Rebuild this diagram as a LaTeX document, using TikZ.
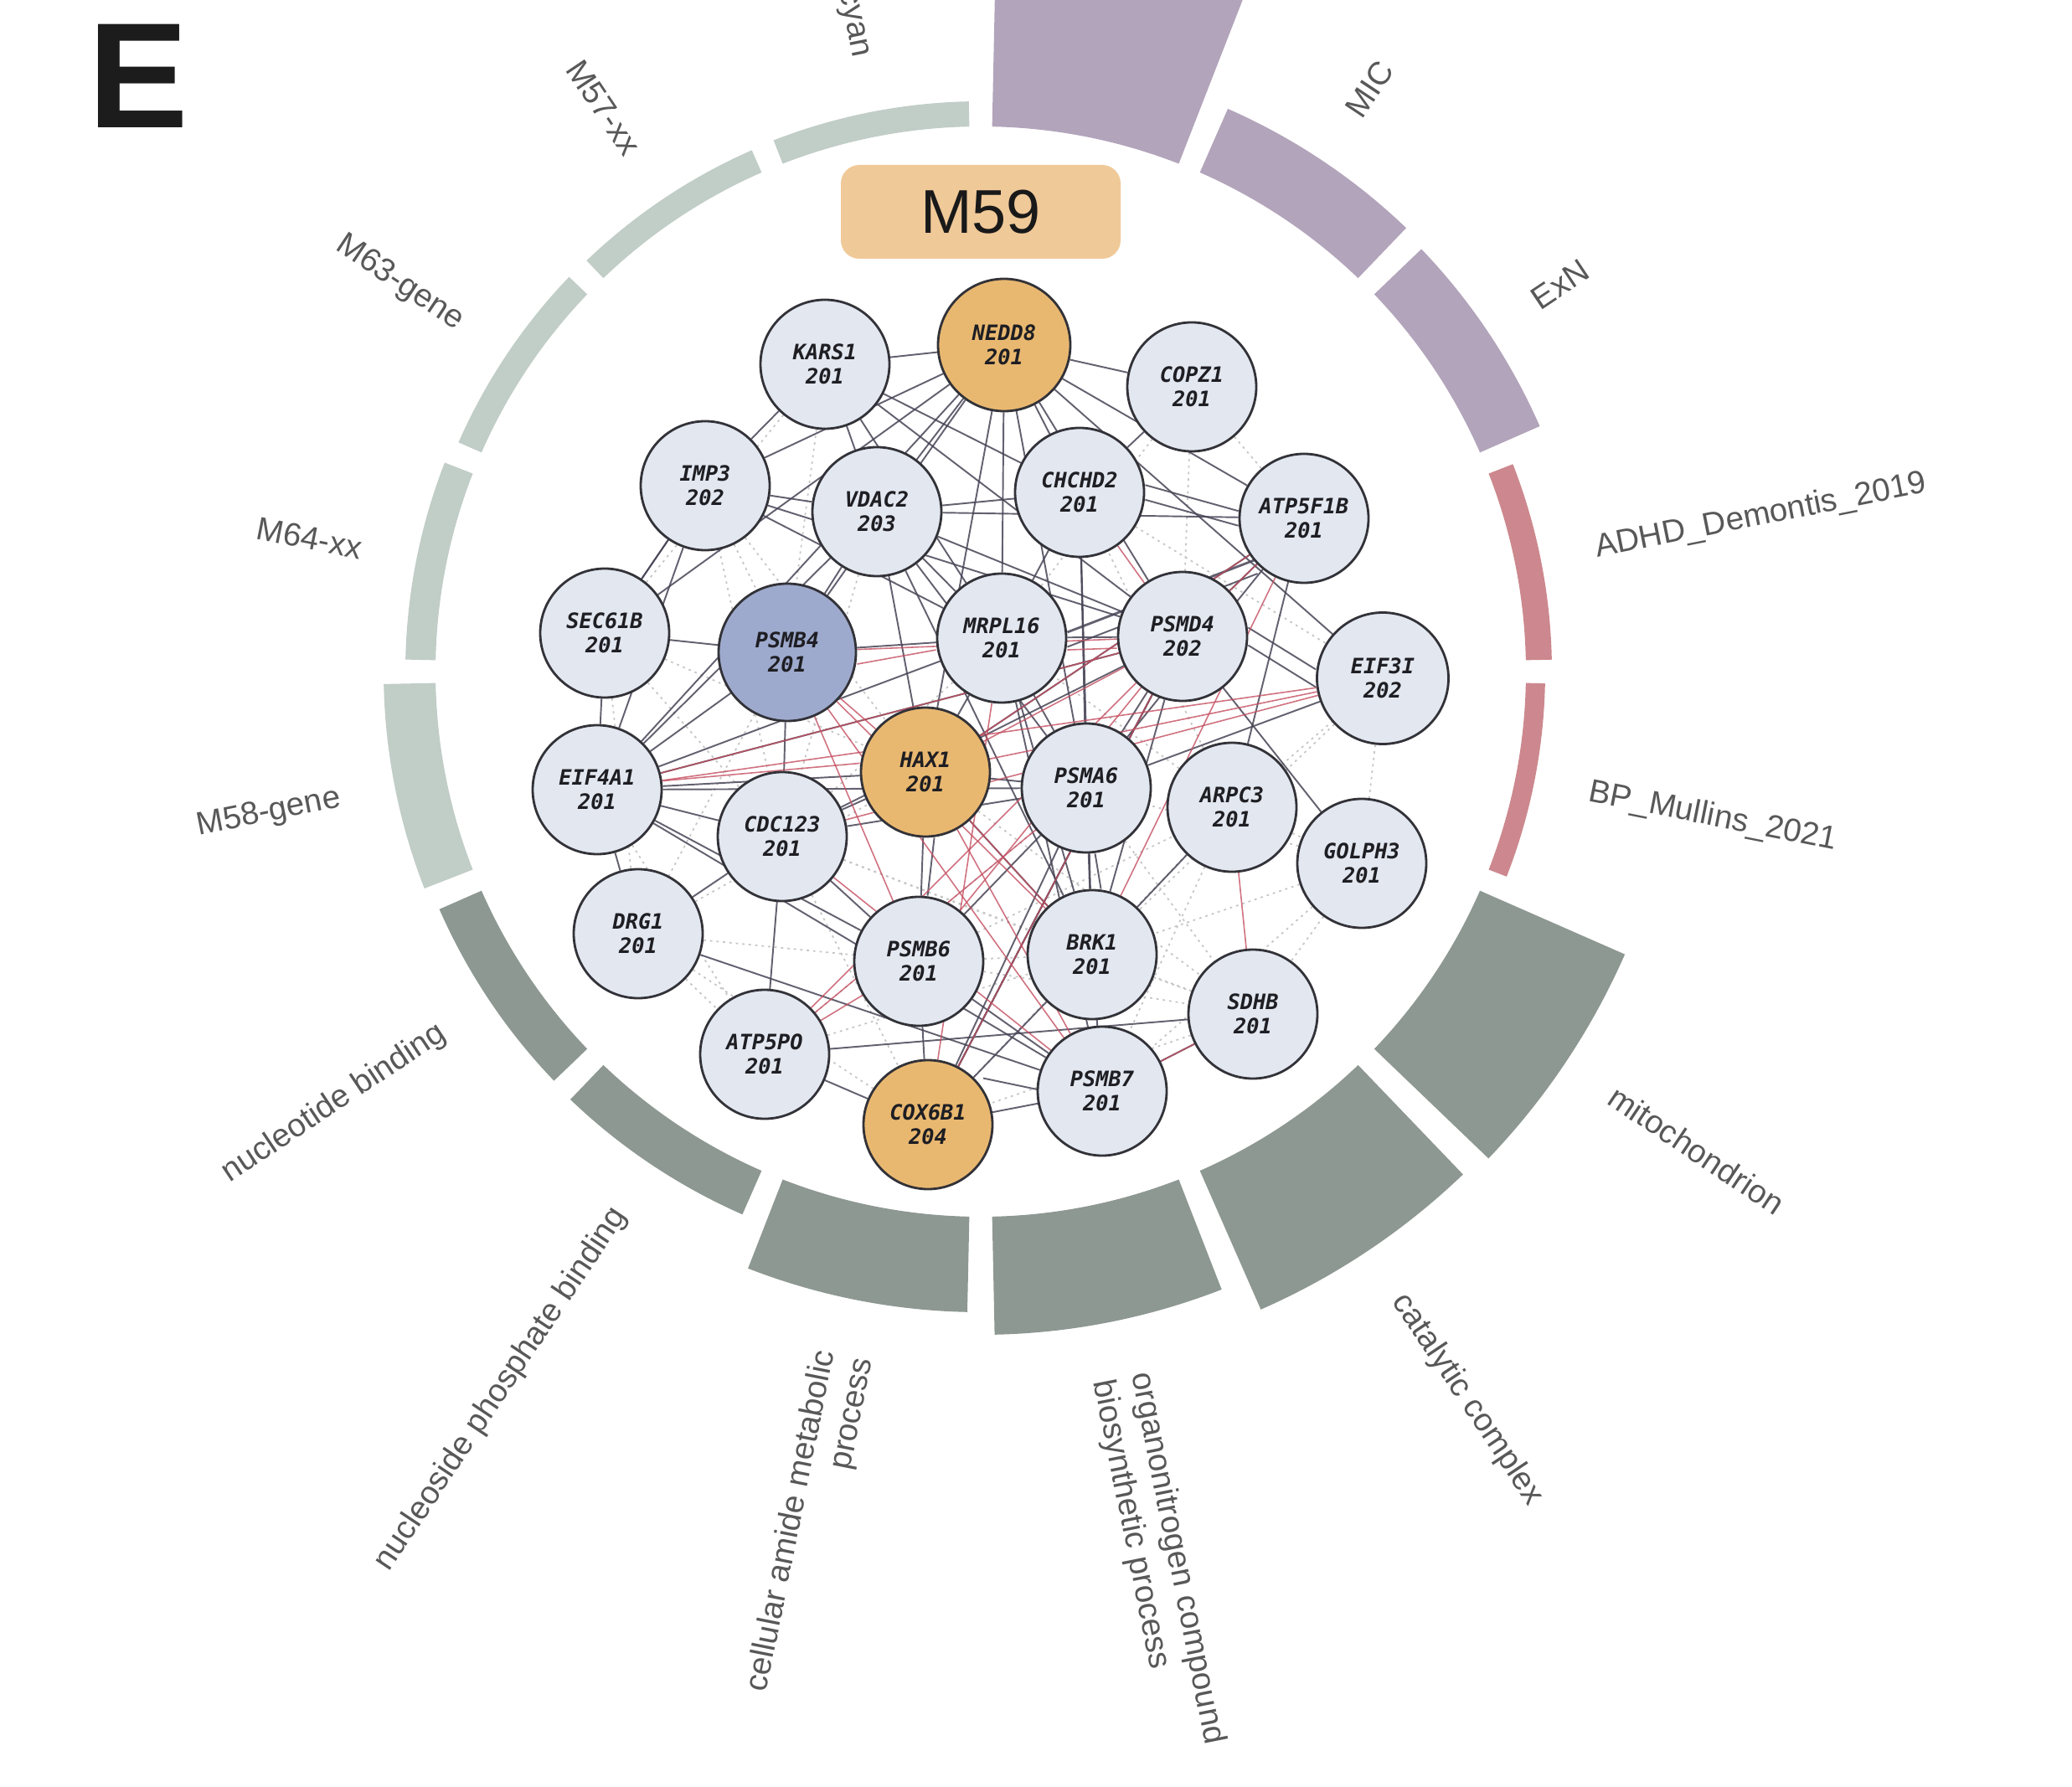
\documentclass[tikz,border=0pt]{standalone}
\usepackage{fontspec}
\setmainfont{Liberation Sans}
\newfontfamily\nodefont{DejaVu Sans Mono}
\usetikzlibrary{calc}
\pgfdeclarelayer{bg}
\pgfsetlayers{bg,main}
\definecolor{ringlight}{RGB}{193,205,199}
\definecolor{ringpurple}{RGB}{178,164,186}
\definecolor{ringred}{RGB}{204,136,142}
\definecolor{ringdark}{RGB}{142,152,146}
\definecolor{nodelight}{RGB}{226,231,240}
\definecolor{nodeorange}{RGB}{233,184,112}
\definecolor{nodeblue}{RGB}{158,170,205}
\definecolor{boxorange}{RGB}{240,201,152}
\definecolor{labelgray}{RGB}{88,88,88}
\definecolor{edgedark}{RGB}{72,68,86}
\definecolor{edgered}{RGB}{196,78,96}
\definecolor{nodeline}{RGB}{50,50,56}
\tikzset{
  gnode/.style={circle, draw=nodeline, line width=0.8pt, fill=nodelight, minimum size=1.54cm,
    inner sep=0pt, align=center, text={rgb,255:red,30;green,30;blue,35},
    font={\fontsize{7.2}{8.4}\nodefont\bfseries\itshape}},
  onode/.style={gnode, fill=nodeorange},
  bnode/.style={gnode, fill=nodeblue},
  lbl/.style={inner sep=0pt, text=labelgray, font={\fontsize{11}{13.2}\selectfont}},
  de/.style={draw=edgedark, line width=0.55pt, opacity=0.85},
  re/.style={draw=edgered, line width=0.45pt, opacity=0.8},
  dte/.style={draw=gray!45, line width=0.5pt, dash pattern=on 0.8pt off 1.4pt}
}
\begin{document}
\begin{tikzpicture}
\useasboundingbox (0,0) rectangle (24.74,-21.34);
\clip (0,0) rectangle (24.74,-21.34);
\coordinate (C) at (11.71,-8.02);

% ring segments
\foreach \k/\rout/\col in {0/6.81/ringlight, 1/11/ringpurple, 2/7.34/ringpurple, 3/7.29/ringpurple,
  4/6.82/ringred, 5/6.74/ringred, 6/8.40/ringdark, 7/8.32/ringdark, 8/7.92/ringdark,
  9/7.65/ringdark, 10/7.08/ringdark, 11/7.06/ringdark, 12/7.13/ringlight, 13/6.87/ringlight,
  14/6.81/ringlight, 15/6.80/ringlight}{
  \pgfmathsetmacro\sa{101.25-22.5*\k+10.05}
  \pgfmathsetmacro\sb{101.25-22.5*\k-10.05}
  \fill[\col] ($(C)+(\sa:6.51)$) arc[start angle=\sa, end angle=\sb, radius=6.51]
    -- ($(C)+(\sb:\rout)$) arc[start angle=\sb, end angle=\sa, radius=\rout] -- cycle;
}

% ring labels
\node[lbl, rotate=-78.75, anchor=east] (lcyan) at ($(C)+(101.25:7.47)$) {cyan};
\node[lbl, rotate=56.25, anchor=west] (lmic) at ($(C)+(56.25:8.00)$) {MIC};
\node[lbl, rotate=33.75, anchor=west] (lexn) at ($(C)+(33.75:7.95)$) {ExN};
\node[lbl, rotate=11.25, anchor=west] (ladhd) at ($(C)+(11.25:7.48)$) {ADHD\_Demontis\_2019};
\node[lbl, rotate=-11.25, anchor=west] (lbp) at ($(C)+(-11.25:7.40)$) {BP\_Mullins\_2021};
\node[lbl, rotate=-33.75, anchor=west] (lmito) at ($(C)+(-33.75:9.06)$) {mitochondrion};
\node[lbl, rotate=-56.25, anchor=west] (lcat) at ($(C)+(-56.25:8.98)$) {catalytic complex};
\node[lbl, rotate=-78.75, anchor=west, align=left] (lorg) at ($(C)+(-78.75:8.58)$) {organonitrogen compound\\biosynthetic process};
\node[lbl, rotate=78.75, anchor=east, align=right] (lcell) at ($(C)+(-101.25:8.31)$) {cellular amide metabolic\\process};
\node[lbl, rotate=56.25, anchor=east] (lnps) at ($(C)+(-123.75:7.74)$) {nucleoside phosphate binding};
\node[lbl, rotate=33.75, anchor=east] (lnuc) at ($(C)+(-146.25:7.72)$) {nucleotide binding};
\node[lbl, rotate=11.25, anchor=east] (lm58) at ($(C)+(-168.75:7.79)$) {M58-gene};
\node[lbl, rotate=-11.25, anchor=east] (lm64) at ($(C)+(168.75:7.53)$) {M64-xx};
\node[lbl, rotate=-33.75, anchor=east] (lm63) at ($(C)+(146.25:7.47)$) {M63-gene};
\node[lbl, rotate=-56.25, anchor=east] (lm57) at ($(C)+(123.75:7.46)$) {M57-xx};

% panel letter and title
\node[inner sep=0pt, anchor=base west, text={rgb,255:red,28;green,28;blue,28},
  font={\fontsize{51}{60}\selectfont\bfseries}] (E) at (1.05,-1.53) {E};
\node[fill=boxorange, rounded corners=0.22cm, minimum width=3.34cm, minimum height=1.12cm,
  inner sep=0pt, text={rgb,255:red,25;green,25;blue,25}, font={\fontsize{21}{25}\selectfont}] (title) at (11.71,-2.53) {M59};

% gene nodes
\node[onode, minimum size=1.58cm] (NE) at (11.99,-4.12) {NEDD8\\201};
\node[gnode] (KA) at (9.85,-4.35) {KARS1\\201};
\node[gnode] (CO) at (14.23,-4.62) {COPZ1\\201};
\node[gnode] (IM) at (8.42,-5.80) {IMP3\\202};
\node[gnode] (VD) at (10.47,-6.11) {VDAC2\\203};
\node[gnode] (CH) at (12.89,-5.88) {CHCHD2\\201};
\node[gnode] (AT) at (15.57,-6.19) {ATP5F1B\\201};
\node[gnode] (SE) at (7.22,-7.56) {SEC61B\\201};
\node[bnode, minimum size=1.64cm] (P4) at (9.40,-7.79) {PSMB4\\201};
\node[gnode] (MR) at (11.96,-7.62) {MRPL16\\201};
\node[gnode] (PD) at (14.12,-7.60) {PSMD4\\202};
\node[gnode, minimum size=1.57cm] (EI) at (16.51,-8.10) {EIF3I\\202};
\node[gnode] (EF) at (7.13,-9.43) {EIF4A1\\201};
\node[onode] (HA) at (11.05,-9.22) {HAX1\\201};
\node[gnode] (PA) at (12.97,-9.41) {PSMA6\\201};
\node[gnode] (AR) at (14.71,-9.64) {ARPC3\\201};
\node[gnode] (GO) at (16.26,-10.31) {GOLPH3\\201};
\node[gnode] (CD) at (9.34,-9.99) {CDC123\\201};
\node[gnode] (DR) at (7.62,-11.15) {DRG1\\201};
\node[gnode] (P6) at (10.97,-11.48) {PSMB6\\201};
\node[gnode] (BR) at (13.04,-11.40) {BRK1\\201};
\node[gnode] (SD) at (14.96,-12.11) {SDHB\\201};
\node[gnode] (AP) at (9.13,-12.59) {ATP5PO\\201};
\node[onode] (CX) at (11.08,-13.43) {COX6B1\\204};
\node[gnode] (P7) at (13.16,-13.03) {PSMB7\\201};

\begin{pgfonlayer}{bg}
% faint dotted background interactions
\foreach \u/\v in {DR/P6, DR/AP, EF/AP, AR/GO, GO/SD, BR/SD, AR/EI, P6/BR, CD/CX, DR/CX,
  AP/BR, CD/BR, AR/P7, PA/SD, GO/BR, EI/GO, AR/CX, SE/CD, SE/DR, IM/P4, KA/P4, CO/AT,
  CO/PD, CH/EI, SE/HA, IM/HA, DR/HA, AP/PA, P6/SD, CD/SD, GO/P7, AR/MR, EI/BR, CO/MR,
  KA/SE, IM/CD, VD/CD, P4/DR, AR/CH, GO/PA, SD/CX, P6/AR, HA/SD, CD/MR}
  \draw[dte] (\u) -- (\v);
% dark interactions
\foreach \u/\v in {KA/NE, NE/CO, KA/IM, KA/VD, KA/CH, KA/MR, KA/PD, IM/NE, VD/NE, NE/CH,
  NE/AT, NE/EI, NE/MR, NE/HA, NE/PD, NE/P4, NE/EF, NE/SE, NE/PA, IM/VD, IM/MR, IM/SE,
  IM/EF, IM/PD, VD/CH, VD/MR, VD/PD, VD/P4, VD/EF, VD/HA, VD/BR, VD/AT, VD/PA, CO/CH,
  CH/MR, CH/PA, CH/BR, AT/PD, AT/PA, AT/HA, AT/AR, PD/GO, PD/MR, PD/PA, PD/BR,
  PD/EF, PD/CD, PD/CX, SE/P4, SE/EF, P4/MR, P4/EF, P4/CD, MR/HA, MR/PA, MR/BR, MR/EF,
  MR/P7, EF/HA, EF/CD, EF/P6, EF/DR, EF/PA, EF/P7, HA/PA, HA/P6, HA/BR, HA/CD, CD/DR,
  CD/AP, CD/P6, CD/PA, DR/P7, AP/CX, AP/SD, P6/CX, P6/P7, P6/PA, BR/PA, BR/AR, BR/P7,
  BR/CX, SD/P7, CX/P7, CX/PA, CX/PD, EI/PA, SE/IM}
  \draw[de] (\u) -- (\v);
% doubled strokes
\draw[de] ([yshift=2.5pt]CH.east) -- ([yshift=2.5pt]AT.west);
\draw[de] ([yshift=-2.5pt]CH.east) -- ([yshift=-2.5pt]AT.west);
\draw[de, line width=0.8pt] ([yshift=2pt]AT.south west) -- ([yshift=2pt]MR.east);
\draw[de] ([yshift=-3pt]AT.south west) -- ([yshift=-3pt]MR.east);
\draw[de] ([yshift=3pt]PD.east) -- ([yshift=3pt]EI.west);
\draw[de] ([yshift=-3pt]PD.east) -- ([yshift=-3pt]EI.west);
\draw[de] ([xshift=3pt]CX.north east) -- ([xshift=3pt]P7.west);
\draw[de] ([xshift=3pt]HA.south) -- ([xshift=3pt]P6.north);
\draw[de] ([xshift=3pt]BR.north) -- ([xshift=3pt]PA.south);
% red interactions
\foreach \u/\v in {P4/PD, P4/HA, P4/P6, P4/P7, EF/PD, EI/HA, EI/EF, PD/P6,
  PD/HA, PD/AP, PD/CX, AT/PD, CH/PD, HA/P7, AP/P6, SD/AR, SD/P7, BR/HA, MR/CX, AT/BR,
  PA/AP, P4/BR, CD/P7, EI/CD, AT/HA}
  \draw[re] (\u) -- (\v);
\draw[re] ([yshift=-4pt]P4.east) -- ([yshift=-4pt]MR.west);
\draw[re] ([yshift=-4pt]MR.east) -- ([yshift=-4pt]PD.west);
\draw[re] ([yshift=3pt]EF.east) -- ([yshift=3pt]HA.west);
\end{pgfonlayer}
\end{tikzpicture}
\end{document}
